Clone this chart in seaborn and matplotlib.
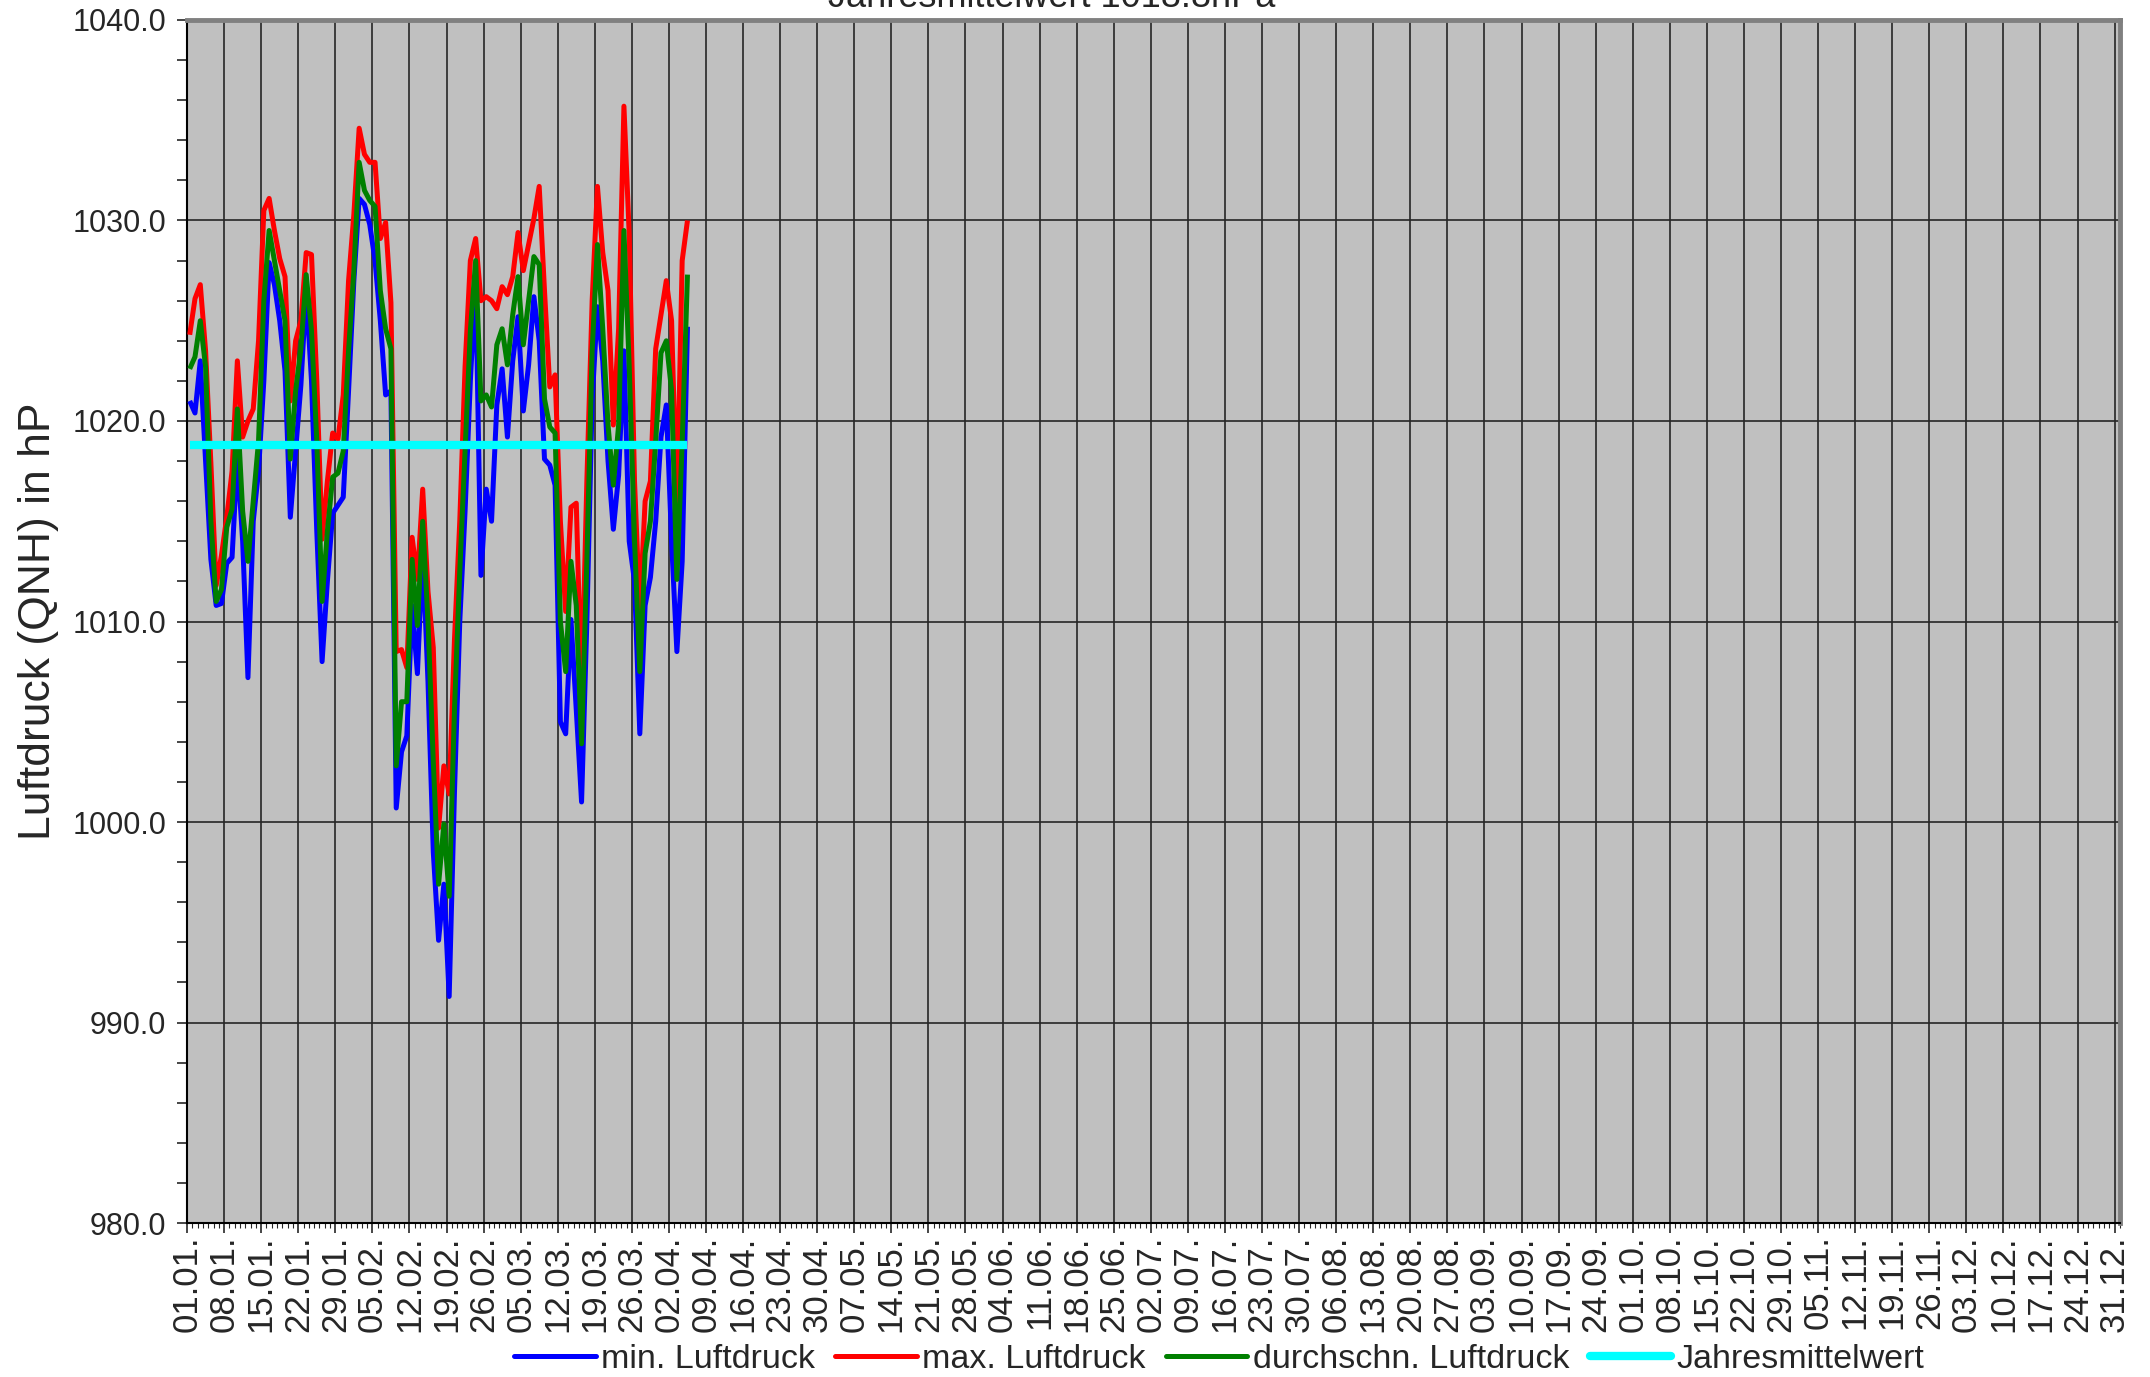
import numpy as np
import pandas as pd
import seaborn as sns
import matplotlib
matplotlib.use("Agg")
import matplotlib.pyplot as plt
from matplotlib.lines import Line2D
from matplotlib.ticker import MultipleLocator, FormatStrFormatter

# daily values 01.01. - 05.04. (hPa)
min_druck = [1021.0, 1020.4, 1023.0, 1018.0, 1013.1, 1010.8, 1010.9, 1012.9, 1013.2, 1018.2,
             1014.0, 1007.2, 1015.0, 1017.5, 1022.0, 1027.9, 1026.8, 1025.0, 1022.5, 1015.2,
             1018.5, 1021.8, 1026.5, 1022.0, 1014.5, 1008.0, 1012.0, 1015.4, 1015.8, 1016.2,
             1021.5, 1027.0, 1031.1, 1030.8, 1029.8, 1028.0, 1025.0, 1021.3, 1021.5, 1000.7,
             1003.5, 1004.3, 1010.8, 1007.4, 1013.5, 1007.0, 998.5, 994.1, 996.9, 991.3,
             1001.5, 1010.0, 1015.5, 1022.0, 1027.0, 1012.3, 1016.6, 1015.0, 1020.8, 1022.6,
             1019.2, 1023.0, 1025.2, 1020.5, 1022.8, 1026.2, 1024.0, 1018.1, 1017.8, 1016.8,
             1005.0, 1004.4, 1010.1, 1005.6, 1001.0, 1010.0, 1021.0, 1025.7, 1023.0, 1018.0,
             1014.6, 1017.3, 1023.5, 1014.0, 1012.0, 1004.4, 1010.8, 1012.2, 1015.0, 1019.2,
             1020.8, 1014.0, 1008.5, 1013.0, 1024.7]

max_druck = [1024.3, 1026.1, 1026.8, 1023.5, 1017.9, 1011.8, 1013.3, 1015.2, 1017.5, 1023.0,
             1019.2, 1020.0, 1020.6, 1024.0, 1030.5, 1031.1, 1029.5, 1028.1, 1027.2, 1021.0,
             1024.0, 1025.0, 1028.4, 1028.3, 1022.0, 1014.1, 1017.0, 1019.4, 1019.1, 1021.3,
             1027.0, 1030.3, 1034.6, 1033.3, 1032.9, 1032.9, 1029.1, 1029.9, 1025.9, 1008.5,
             1008.6, 1007.7, 1014.2, 1012.1, 1016.6, 1011.5, 1008.7, 999.7, 1002.8, 1001.4,
             1009.1, 1015.0, 1022.7, 1028.0, 1029.1, 1026.0, 1026.2, 1026.0, 1025.6, 1026.7,
             1026.3, 1027.2, 1029.4, 1027.5, 1028.8, 1030.1, 1031.7, 1026.5, 1021.7, 1022.3,
             1015.0, 1010.5, 1015.7, 1015.9, 1006.3, 1017.0, 1026.0, 1031.7, 1028.4, 1026.5,
             1019.8, 1024.6, 1035.7, 1029.3, 1017.0, 1010.5, 1016.0, 1017.0, 1023.6, 1025.3,
             1027.0, 1025.0, 1015.5, 1028.0, 1030.0]

mittel_druck = [1022.6, 1023.2, 1025.0, 1022.7, 1015.0, 1011.0, 1011.6, 1014.7, 1015.6, 1020.6,
                1015.5, 1013.0, 1016.0, 1019.0, 1026.0, 1029.5, 1028.0, 1026.5, 1025.0, 1018.1,
                1021.5, 1023.6, 1027.3, 1024.5, 1019.0, 1011.0, 1014.5, 1017.2, 1017.4, 1018.5,
                1023.5, 1027.5, 1032.9, 1031.5, 1031.0, 1030.7, 1026.5, 1024.6, 1023.6, 1002.8,
                1006.0, 1006.0, 1013.1, 1009.8, 1015.0, 1010.0, 1003.0, 996.9, 999.9, 996.3,
                1005.6, 1012.5, 1018.5, 1024.5, 1028.0, 1021.0, 1021.3, 1020.7, 1023.8, 1024.6,
                1022.8, 1025.3, 1027.2, 1023.8, 1026.0, 1028.2, 1027.8, 1021.1, 1019.7, 1019.4,
                1010.0, 1007.5, 1013.0, 1010.8, 1003.9, 1013.0, 1023.5, 1028.8, 1024.6, 1019.8,
                1016.8, 1019.8, 1029.5, 1022.7, 1014.1, 1007.5, 1013.4, 1015.0, 1019.0, 1023.4,
                1024.0, 1021.5, 1012.1, 1018.9, 1027.3]

jahresmittel = 1018.8

serien = ["min. Luftdruck", "max. Luftdruck", "durchschn. Luftdruck", "Jahresmittelwert"]
farben = ["#0000FF", "#FF0000", "#008000", "#00FFFF"]

# weekly tick labels over a full (non-leap) year
wochen = pd.date_range("2015-01-01", "2015-12-31", freq="7D")
wochen_labels = wochen.strftime("%d.%m.").tolist()

n = len(min_druck)
tag = np.arange(n) + 0.5   # points sit in the middle of each day
df = pd.DataFrame({
    "tag": tag,
    serien[0]: min_druck,
    serien[1]: max_druck,
    serien[2]: mittel_druck,
    serien[3]: [jahresmittel] * n,
})

sns.set_style("white", {"axes.facecolor": "#C0C0C0"})
plt.rcParams["font.family"] = ["Liberation Sans", "DejaVu Sans"]

fig = plt.figure(figsize=(21.5, 13.77), dpi=100)
ax = fig.add_axes([0.087, 0.1118, 0.899, 0.8737])

breiten = [3.6, 3.6, 3.6, 6.0]
for s, c, lw in zip(serien, farben, breiten):
    sns.lineplot(data=df, x="tag", y=s, color=c, linewidth=lw, ax=ax,
                 solid_capstyle="butt", zorder=3)

ax.set_xlim(0, 365)
ax.set_ylim(980, 1040)
ax.set_xticks(np.arange(0, 365, 7))
ax.set_xticklabels(wochen_labels, rotation=90, fontsize=25)
ax.xaxis.set_minor_locator(MultipleLocator(1))
ax.yaxis.set_major_locator(MultipleLocator(10))
ax.yaxis.set_minor_locator(MultipleLocator(2))
ax.yaxis.set_major_formatter(FormatStrFormatter("%.1f"))
ax.tick_params(axis="y", labelsize=22, pad=8)
ax.tick_params(axis="x", which="major", length=7, width=1.2, pad=2, bottom=True)
ax.tick_params(axis="x", which="minor", length=3.5, width=0.8, bottom=True)
ax.tick_params(axis="y", which="both", length=7, width=1.2, left=True)

ax.grid(True, which="major", axis="both", color="#262626", linewidth=1.2, zorder=1)
ax.set_axisbelow(True)

ax.set_xlabel("")
ax.set_ylabel("Luftdruck (QNH) in hP", fontsize=32)
ax.yaxis.set_label_coords(-0.066, 0.5)

for side in ["top", "right"]:
    ax.spines[side].set_color("#808080")
    ax.spines[side].set_linewidth(3.5)
for side in ["left", "bottom"]:
    ax.spines[side].set_color("black")
    ax.spines[side].set_linewidth(1.5)

fig.text(0.489, 0.995, "Jahresmittelwert 1018.8hPa", fontsize=26,
         ha="center", va="baseline")

handles = [Line2D([], [], color=c, linewidth=lw) for c, lw in zip(farben, breiten)]
fig.legend(handles, serien, loc="center", bbox_to_anchor=(0.567, 0.013), ncol=4,
           frameon=False, fontsize=24.5, handlelength=2.4, handletextpad=0.15,
           columnspacing=0.6, borderaxespad=0, borderpad=0)

fig.savefig("out.png", dpi=100)
